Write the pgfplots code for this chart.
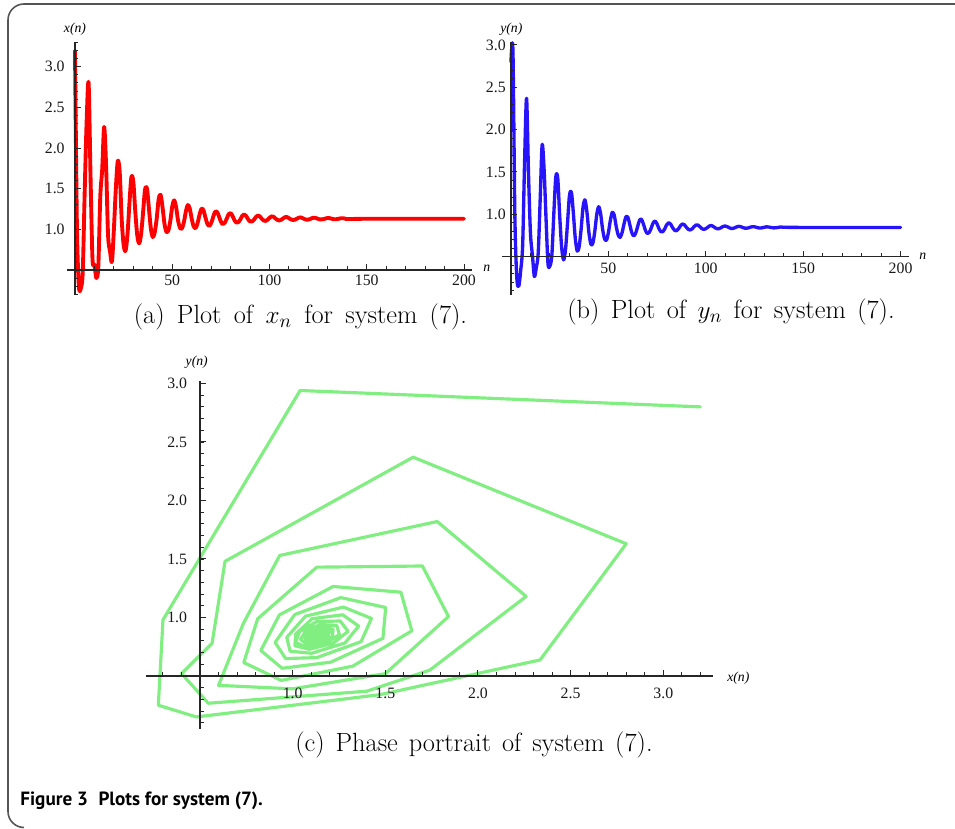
\documentclass[border=0pt]{standalone}
\usepackage{pgfplots}
\pgfplotsset{compat=1.18}
\usepackage{pgfplotstable}
\usepackage{fontspec}
\newfontfamily\tickfont{Liberation Serif}
\newfontfamily\capfont{PT Sans}

\definecolor{xred}{RGB}{255,0,0}
\definecolor{yblue}{RGB}{40,20,250}
\definecolor{phgreen}{RGB}{128,238,128}
\definecolor{framegray}{RGB}{85,85,85}

% x(n), y(n) of system (7)
\pgfplotstableread{
n x y
0 3.200 2.800
1 1.040 2.940
2 0.300 0.980
3 0.275 0.250
4 0.480 0.150
5 1.470 0.340
6 2.335 0.637
7 2.800 1.630
8 1.650 2.370
9 0.635 1.480
10 0.565 0.780
11 0.400 0.520
12 0.545 0.267
13 1.400 0.370
14 1.740 0.550
15 2.260 1.180
16 1.780 1.820
17 0.930 1.530
18 0.734 0.950
19 0.600 0.420
20 1.000 0.390
21 1.500 0.520
22 1.841 1.008
23 1.700 1.440
24 1.130 1.430
25 0.811 0.989
26 0.736 0.615
27 0.938 0.462
28 1.324 0.584
29 1.643 0.886
30 1.584 1.216
31 1.218 1.265
32 0.928 1.022
33 0.828 0.718
34 0.943 0.566
35 1.205 0.618
36 1.487 0.822
37 1.502 1.085
38 1.260 1.170
39 1.011 1.025
40 0.905 0.787
41 0.962 0.649
42 1.130 0.657
43 1.369 0.793
44 1.425 0.992
45 1.274 1.089
46 1.069 1.011
47 0.968 0.830
48 0.986 0.712
49 1.102 0.694
50 1.282 0.782
51 1.356 0.926
52 1.270 1.023
53 1.106 0.990
54 1.017 0.860
55 1.012 0.759
56 1.089 0.728
57 1.219 0.781
58 1.299 0.882
59 1.256 0.970
60 1.130 0.965
61 1.037 0.878
62 1.015 0.786
63 1.074 0.746
64 1.176 0.777
65 1.252 0.854
66 1.238 0.930
67 1.151 0.941
68 1.071 0.885
69 1.042 0.812
70 1.076 0.773
71 1.148 0.786
72 1.215 0.839
73 1.218 0.900
74 1.161 0.919
75 1.095 0.886
76 1.064 0.830
77 1.081 0.794
78 1.130 0.796
79 1.187 0.832
80 1.200 0.879
81 1.164 0.901
82 1.112 0.883
83 1.083 0.841
84 1.088 0.811
85 1.122 0.806
86 1.166 0.829
87 1.184 0.864
88 1.163 0.886
89 1.123 0.878
90 1.097 0.848
91 1.096 0.823
92 1.118 0.815
93 1.151 0.828
94 1.170 0.854
95 1.160 0.874
96 1.130 0.873
97 1.108 0.853
98 1.103 0.831
99 1.117 0.822
100 1.141 0.830
101 1.159 0.847
102 1.156 0.864
103 1.135 0.867
104 1.116 0.854
105 1.109 0.838
106 1.117 0.829
107 1.134 0.832
108 1.150 0.844
109 1.151 0.858
110 1.137 0.862
111 1.122 0.854
112 1.115 0.842
113 1.118 0.833
114 1.130 0.834
115 1.143 0.842
116 1.147 0.853
117 1.138 0.858
118 1.126 0.854
119 1.119 0.844
120 1.120 0.837
121 1.128 0.836
122 1.139 0.841
123 1.143 0.849
124 1.138 0.854
125 1.128 0.853
126 1.122 0.846
127 1.122 0.840
128 1.127 0.838
129 1.135 0.841
130 1.140 0.847
131 1.137 0.852
132 1.130 0.851
133 1.125 0.847
134 1.124 0.842
135 1.127 0.840
136 1.133 0.841
137 1.137 0.845
138 1.136 0.849
139 1.131 0.850
140 1.127 0.847
150 1.130 0.845
160 1.130 0.845
170 1.130 0.845
180 1.130 0.845
190 1.130 0.845
200 1.130 0.845
}\sysdata

\pgfplotsset{mma/.style={scale only axis, hide axis, clip=false, anchor=south west}}
\tikzset{
  axln/.style={black!85, line width=0.75pt},
  tk/.style={black!85, line width=0.55pt},
  tl/.style={font=\tickfont\fontsize{9}{10}\selectfont, inner sep=0pt, text=black!90},
  al/.style={font=\tickfont\itshape\fontsize{7.8}{9}\selectfont, inner sep=0pt},
  capt/.style={font=\fontsize{15}{18}\selectfont, anchor=base},
}

\begin{document}
\begin{tikzpicture}
\useasboundingbox (0,0) rectangle (19.1,16.58);
\draw[framegray, line width=0.9pt] (19.3,16.5) -- (0.48,16.5)
  arc[start angle=90, end angle=180, radius=0.32] -- (0.16,0.35)
  arc[start angle=180, end angle=270, radius=0.32];

% (a) x(n)
\begin{axis}[mma, at={(1.344cm,10.676cm)}, width=8.092cm, height=5.057cm,
  xmin=-4, xmax=204, ymin=0.19, ymax=3.3]
\addplot[xred, line width=2.2pt, smooth, line join=round, line cap=round] table[x=n, y=x] {\sysdata};
\draw[axln] (axis cs:-4,0.5) -- (axis cs:204,0.5);
\draw[axln] (axis cs:0,0.19) -- (axis cs:0,3.3);
\pgfplotsinvokeforeach{10,20,...,200}{\draw[tk] (axis cs:#1,0.5) -- ++(0pt,2pt);}
\pgfplotsinvokeforeach{50,100,150,200}{\draw[tk] (axis cs:#1,0.5) -- ++(0pt,3.4pt);
  \node[tl, anchor=north] at ([yshift=-2.6pt]axis cs:#1,0.5) {#1};}
\pgfplotsinvokeforeach{0.2,0.3,...,3.3}{\draw[tk] (axis cs:0,#1) -- ++(2pt,0pt);}
\pgfplotsinvokeforeach{1.0,1.5,2.0,2.5,3.0}{\draw[tk] (axis cs:0,#1) -- ++(3.4pt,0pt);
  \node[tl, anchor=east] at ([xshift=-5.7pt]axis cs:0,#1) {#1};}
\end{axis}

% (b) y(n)
\begin{axis}[mma, at={(10.044cm,10.684cm)}, width=8.143cm, height=5.048cm,
  xmin=-4.5, xmax=204.5, ymin=0.05, ymax=3.03]
\addplot[yblue, line width=1.9pt, smooth, line join=round, line cap=round] table[x=n, y=y] {\sysdata};
\draw[axln] (axis cs:-4.5,0.5) -- (axis cs:204.5,0.5);
\draw[axln] (axis cs:0,0.05) -- (axis cs:0,3.03);
\pgfplotsinvokeforeach{10,20,...,200}{\draw[tk] (axis cs:#1,0.5) -- ++(0pt,2pt);}
\pgfplotsinvokeforeach{50,100,150,200}{\draw[tk] (axis cs:#1,0.5) -- ++(0pt,3.4pt);
  \node[tl, anchor=north] at ([yshift=-3.6pt]axis cs:#1,0.5) {#1};}
\pgfplotsinvokeforeach{0.1,0.2,...,3.0}{\draw[tk] (axis cs:0,#1) -- ++(2pt,0pt);}
\pgfplotsinvokeforeach{1.0,1.5,2.0,2.5,3.0}{\draw[tk] (axis cs:0,#1) -- ++(3.4pt,0pt);
  \node[tl, anchor=east] at ([xshift=-2.8pt]axis cs:0,#1) {#1};}
\end{axis}

% (c) phase portrait
\begin{axis}[mma, at={(2.926cm,2.007cm)}, width=11.34cm, height=6.95cm,
  xmin=0.21, xmax=3.27, ymin=0.05, ymax=3.02]
\addplot[phgreen, line width=1.8pt, line join=round, line cap=round] table[x=x, y=y] {\sysdata};
\draw[axln] (axis cs:0.21,0.5) -- (axis cs:3.27,0.5);
\draw[axln] (axis cs:0.5,0.05) -- (axis cs:0.5,3.02);
\pgfplotsinvokeforeach{0.3,0.4,...,3.2}{\draw[tk] (axis cs:#1,0.5) -- ++(0pt,2pt);}
\pgfplotsinvokeforeach{1.0,1.5,2.0,2.5,3.0}{\draw[tk] (axis cs:#1,0.5) -- ++(0pt,3.4pt);
  \node[tl, anchor=north] at ([yshift=-6.6pt]axis cs:#1,0.5) {#1};}
\pgfplotsinvokeforeach{0.1,0.2,...,3.0}{\draw[tk] (axis cs:0.5,#1) -- ++(2pt,0pt);}
\pgfplotsinvokeforeach{1.0,1.5,2.0,2.5,3.0}{\draw[tk] (axis cs:0.5,#1) -- ++(3.4pt,0pt);
  \node[tl, anchor=east] at ([xshift=-7.2pt]axis cs:0.5,#1) {#1};}
\end{axis}

% axis names
\node[al] at (1.5,16.0) {x(n)};
\node[al] at (10.226,15.994) {y(n)};
\node[al] at (9.734,11.22) {n};
\node[al] at (18.454,11.446) {n};
\node[al] at (3.934,9.326) {y(n)};
\node[al] at (14.766,3.014) {x(n)};

% captions
\node[capt] at (6.01,10.10) {\spaceskip=7pt plus 1pt(a) Plot of $x_n$ for system (7).};
\node[capt] at (14.62,10.20) {\spaceskip=6.5pt plus 1pt(b) Plot of $y_n$ for system (7).};
\node[capt] at (9.48,1.54) {\spaceskip=6.2pt plus 1pt(c) Phase portrait of system (7).};
\node[anchor=base west, inner sep=0pt, font=\capfont\bfseries\fontsize{10.9}{12}\selectfont]
  at (0.4,0.46) {Figure 3\hspace{0.55em}Plots for system (7).};
\end{tikzpicture}
\end{document}
